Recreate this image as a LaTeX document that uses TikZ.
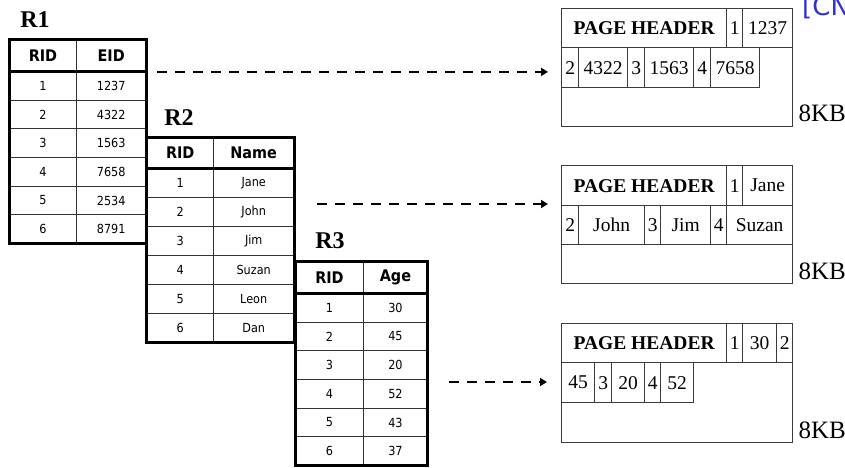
\documentclass[tikz,border=0pt]{standalone}
\usepackage{fontspec}
\setmainfont{Liberation Serif}
\newfontfamily\tabfont[FakeStretch=0.9]{DejaVu Sans}
\newfontfamily\bluefont{DejaVu Sans}
\usetikzlibrary{arrows.meta}
\definecolor{linkblue}{RGB}{48,48,208}
\definecolor{pageline}{RGB}{58,58,58}

% One relation table: name, x0, x-middle, x1, top, header bottom, row height, column title, rows
\newcommand{\reltable}[9]{%
  \node[thead, minimum width={(#3-#2)*1pt}, minimum height={(#6-#5)*1pt}] (#1-h1) at (#2,#5) {RID};
  \node[thead, minimum width={(#4-#3)*1pt}, minimum height={(#6-#5)*1pt}] (#1-h2) at (#3,#5) {#8};
  \foreach \k/\v [count=\i] in {#9} {
    \node[tcell, minimum width={(#3-#2)*1pt}, minimum height={#7*1pt}] (#1-\i-a) at (#2,{#6+(\i-1)*#7}) {\k};
    \node[tcell, minimum width={(#4-#3)*1pt}, minimum height={#7*1pt}] (#1-\i-b) at (#3,{#6+(\i-1)*#7}) {\v};
  }
  \draw[outer] (#1-h1.north west) rectangle (#1-6-b.south east);
  \draw[outer] (#1-h1.south west) -- (#1-h2.south east);
}
% One cell of a page: name, x0, x1, y0, y1, text
\newcommand{\pcell}[6]{%
  \node[pcell, minimum width={(#3-#2)*1pt}, minimum height={(#5-#4)*1pt}] (#1) at (#2,#4) {#6};
}

\begin{document}
\begin{tikzpicture}[x=1pt,y=-1pt,
  tcell/.style={draw=black!80, line width=0.9pt, inner sep=0pt, anchor=north west,
    font=\tabfont\fontsize{12.5}{14}\selectfont},
  thead/.style={tcell, font=\tabfont\bfseries\fontsize{16}{18}\selectfont},
  outer/.style={line width=3pt, line cap=rect},
  rlabel/.style={anchor=base, font=\bfseries\fontsize{24}{28}\selectfont},
  pbox/.style={draw=pageline, line width=1.3pt, inner sep=0pt, anchor=north west},
  pcell/.style={pbox, font=\fontsize{19.5}{22}\selectfont},
  kb/.style={anchor=base west, font=\fontsize{25}{28}\selectfont},
  arr/.style={line width=2.5pt, dash pattern=on 10pt off 8pt,
    -{Triangle[length=7pt,width=8pt]}}]

\fill[white] (0,0) rectangle (845,467);
\useasboundingbox (0,0) rectangle (845,467);

% relation labels
\node[rlabel] (l1) at (35,27) {R1};
\node[rlabel] (l2) at (179,125) {R2};
\node[rlabel] (l3) at (330,248) {R3};

% relations
\reltable{r1}{9}{76}{145.5}{39}{71}{28.67}{EID}{1/1237,2/4322,3/1563,4/7658,5/2534,6/8791}
\reltable{r2}{146.5}{213}{293.5}{137}{168}{29}{Name}{1/Jane,2/John,3/Jim,4/Suzan,5/Leon,6/Dan}
\reltable{r3}{295}{363}{427}{261}{293}{28.67}{Age}{1/30,2/45,3/20,4/52,5/43,6/37}

% page 1
\node[pbox, minimum width=231pt, minimum height=118pt] (p1) at (561,8) {};
\pcell{p1h}{561}{726}{8}{47}{\bfseries PAGE HEADER}
\pcell{p1a}{726}{742}{8}{47}{1}
\pcell{p1b}{742}{792}{8}{47}{1237}
\pcell{p1c}{561}{578}{47}{87}{2}
\pcell{p1d}{578}{627}{47}{87}{4322}
\pcell{p1e}{627}{644}{47}{87}{3}
\pcell{p1f}{644}{693}{47}{87}{1563}
\pcell{p1g}{693}{710}{47}{87}{4}
\pcell{p1i}{710}{759}{47}{87}{7658}
\node[kb] (kb1) at (795,121) {8KB};

% page 2
\node[pbox, minimum width=231pt, minimum height=118pt] (p2) at (561,165) {};
\pcell{p2h}{561}{726}{165}{205}{\bfseries PAGE HEADER}
\pcell{p2a}{726}{742}{165}{205}{1}
\pcell{p2b}{742}{792}{165}{205}{Jane}
\pcell{p2c}{561}{578}{205}{244}{2}
\pcell{p2d}{578}{644}{205}{244}{John}
\pcell{p2e}{644}{660}{205}{244}{3}
\pcell{p2f}{660}{710}{205}{244}{Jim}
\pcell{p2g}{710}{726}{205}{244}{4}
\pcell{p2i}{726}{792}{205}{244}{Suzan}
\node[kb] (kb2) at (795,279) {8KB};

% page 3
\node[pbox, minimum width=231pt, minimum height=119pt] (p3) at (561,323) {};
\pcell{p3h}{561}{726}{323}{362}{\bfseries PAGE HEADER}
\pcell{p3a}{726}{742}{323}{362}{1}
\pcell{p3b}{742}{776}{323}{362}{30}
\pcell{p3c}{776}{792}{323}{362}{2}
\pcell{p3d}{561}{594}{362}{402}{45}
\pcell{p3e}{594}{611}{362}{402}{3}
\pcell{p3f}{611}{644}{362}{402}{20}
\pcell{p3g}{644}{660}{362}{402}{4}
\pcell{p3i}{660}{693}{362}{402}{52}
\node[kb] (kb3) at (795,438) {8KB};

% arrows from relations to pages
\coordinate (s1) at ([xshift=11pt]r1-h2.south east);
\coordinate (e1) at ([xshift=-13pt]p1.west |- s1);
\draw[arr] (s1) -- (e1);
\coordinate (s2) at (317,204);
\coordinate (e2) at ([xshift=-13pt]p2.west |- s2);
\draw[arr] (s2) -- (e2);
\coordinate (s3) at (449,382);
\coordinate (e3) at ([xshift=-14pt]p3.west |- s3);
\draw[arr] (s3) -- (e3);

% link text running off the top edge
\node[anchor=base west, inner sep=0pt, text=linkblue, font=\bluefont\fontsize{26}{30}\selectfont] (cn) at (802,15) {[CN};
\end{tikzpicture}
\end{document}
